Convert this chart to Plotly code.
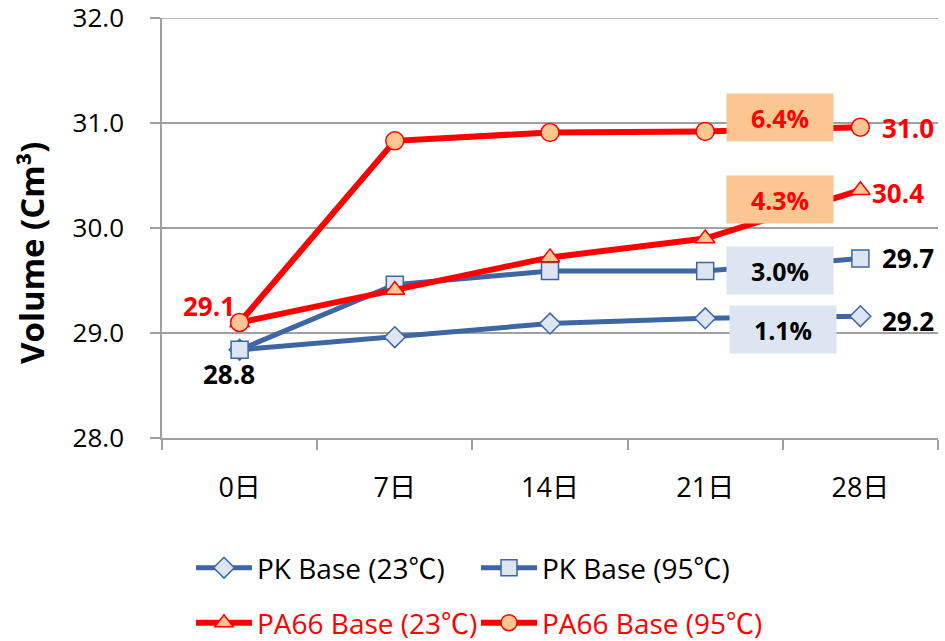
import plotly.graph_objects as go

# Volume change over immersion time
days = ["0日", "7日", "14日", "21日", "28日"]
pk_23 = [28.84, 28.96, 29.09, 29.14, 29.16]
pk_95 = [28.84, 29.46, 29.59, 29.59, 29.71]
pa66_23 = [29.10, 29.41, 29.72, 29.90, 30.36]
pa66_95 = [29.10, 30.83, 30.91, 30.92, 30.96]

names = ["PK Base (23℃)", "PK Base (95℃)", "PA66 Base (23℃)", "PA66 Base (95℃)"]
y_ticks = [28.0, 29.0, 30.0, 31.0, 32.0]

BLUE = "#3D66A3"
BLUE_FILL = "#DCE5F1"
RED = "#FF0000"
ORANGE_FILL = "#FCC692"
GRID = "#A0A0A0"
FONT = "Open Sans, Noto Sans CJK JP, sans-serif"

W, H = 945, 641
ML, MR, MT, MB = 162, 7, 18, 203
pw, ph = W - ML - MR, H - MT - MB


def px_x(x):
    return (x - ML) / pw


def px_y(y):
    return 1 - (y - MT) / ph


fig = go.Figure()

series = [
    (pk_23, names[0], BLUE, 5, "diamond", 16, BLUE_FILL, "legend"),
    (pk_95, names[1], BLUE, 5, "square", 17, BLUE_FILL, "legend"),
    (pa66_23, names[2], RED, 6, "triangle-up", 17, ORANGE_FILL, "legend2"),
    (pa66_95, names[3], RED, 6, "circle", 18, ORANGE_FILL, "legend2"),
]
for vals, name, lc, lw, sym, ms, fill, lg in series:
    fig.add_trace(go.Scatter(
        x=days, y=vals, name=name, mode="lines+markers",
        line=dict(color=lc, width=lw),
        marker=dict(symbol=sym, size=ms, color=fill, line=dict(color=lc, width=1.5)),
        legend=lg, cliponaxis=False,
    ))

# top gridline, kept as a shape so it is not dropped at the range end
shapes = [dict(type="line", xref="paper", yref="y", x0=0, x1=1,
               y0=y_ticks[-1], y1=y_ticks[-1], line=dict(color=GRID, width=1.5),
               layer="below")]

annotations = []


def value_label(x, y, color, dx, dy):
    annotations.append(dict(
        x=x, y=y, xref="x", yref="y", text=f"<b>{y:.1f}</b>", showarrow=False,
        xanchor="center", yanchor="middle", xshift=dx, yshift=dy,
        font=dict(family=FONT, size=26, color=color),
    ))


value_label(days[0], pa66_95[0], RED, -31, 17)
value_label(days[0], pk_95[0], "black", -11, -24)
value_label(days[-1], pa66_95[-1], RED, 48, -1)
value_label(days[-1], pa66_23[-1], RED, 38, -3)
value_label(days[-1], pk_95[-1], "black", 48, 0)
value_label(days[-1], pk_23[-1], "black", 48, -5)


def pct_box(vals, yc, color, fill, xc=3.48):
    pct = (vals[-1] / vals[0] - 1) * 100
    annotations.append(dict(
        x=xc, y=yc, xref="x", yref="y", text=f"<b>{pct:.1f}%</b>", showarrow=False,
        xanchor="center", yanchor="middle", width=100, height=41, borderpad=3,
        bgcolor=fill, font=dict(family=FONT, size=25, color=color),
    ))


pct_box(pa66_95, 31.057, RED, ORANGE_FILL)
pct_box(pa66_23, 30.276, RED, ORANGE_FILL)
pct_box(pk_95, 29.60, "black", BLUE_FILL)
pct_box(pk_23, 29.038, "black", BLUE_FILL, xc=3.50)

annotations.append(dict(
    x=px_x(31), y=px_y(253), xref="paper", yref="paper",
    text="<b>Volume (Cm³)</b>", showarrow=False,
    textangle=-90, xanchor="center", yanchor="middle",
    font=dict(family=FONT, size=33, color="black"),
))

legend_common = dict(
    orientation="h", x=px_x(196 - 5), xanchor="left", yanchor="middle",
    itemwidth=56, entrywidth=214, bgcolor="rgba(0,0,0,0)",
    itemclick=False, itemdoubleclick=False,
)

fig.update_layout(
    width=W, height=H,
    margin=dict(l=ML, r=MR, t=MT, b=MB, autoexpand=False),
    paper_bgcolor="white", plot_bgcolor="white",
    font=dict(family=FONT, size=27, color="black"),
    annotations=annotations,
    shapes=shapes,
    xaxis=dict(
        type="category", range=[-0.5, 4.5], tickson="boundaries",
        showgrid=False, showline=True, linecolor=GRID, linewidth=1.5,
        ticks="outside", ticklen=10, tickcolor=GRID, tickwidth=1.5,
        ticklabelstandoff=25, tickfont=dict(family=FONT, size=27),
    ),
    yaxis=dict(
        range=[28, 32.0001], tickvals=y_ticks, tickformat=".1f",
        showgrid=True, gridcolor=GRID, gridwidth=1.5,
        showline=True, linecolor=GRID, linewidth=1.5,
        ticks="outside", ticklen=10, tickcolor=GRID, tickwidth=1.5,
        ticklabelstandoff=21, ticklabeloverflow="allow",
        tickfont=dict(family=FONT, size=26),
        zeroline=False,
    ),
    legend=dict(**legend_common, y=px_y(568),
                font=dict(family=FONT, size=28, color="black")),
    legend2=dict(**legend_common, y=px_y(623),
                 font=dict(family=FONT, size=28, color=RED)),
)

fig.write_html("out.html")
